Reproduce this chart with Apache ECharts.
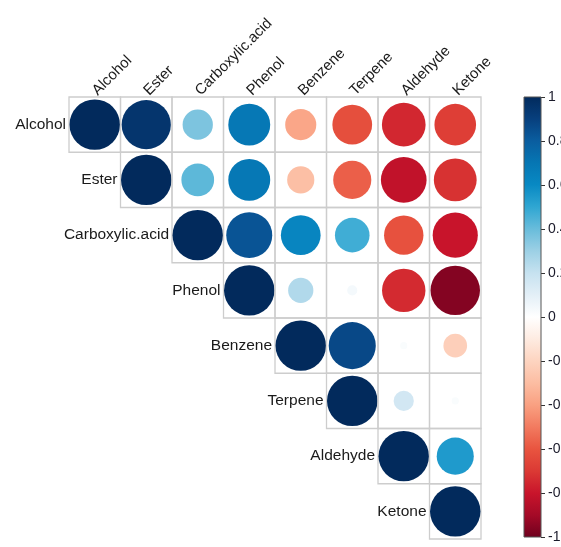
<!DOCTYPE html>
<html>
<head>
<meta charset="utf-8">
<script src="https://cdn.jsdelivr.net/npm/echarts@6/dist/echarts.min.js"></script>
<style>
  html, body { margin: 0; padding: 0; background: #fff; }
  #chart { width: 561px; height: 547px; }
</style>
</head>
<body>
<div id="chart"></div>
<script>
// Variables, in matrix order
const categories = ['Alcohol', 'Ester', 'Carboxylic.acid', 'Phenol', 'Benzene', 'Terpene', 'Aldehyde', 'Ketone'];

// Upper-triangle correlations, each row starting at its diagonal
const rowAlcohol   = [1, 0.95, 0.36, 0.69, -0.38, -0.62, -0.75, -0.68];
const rowEster     = [1, 0.42, 0.69, -0.29, -0.57, -0.82, -0.72];
const rowCarboxyl  = [1, 0.83, 0.62, 0.47, -0.61, -0.80];
const rowPhenol    = [1, 0.25, 0.04, -0.74, -0.96];
const rowBenzene   = [1, 0.87, 0.02, -0.22];
const rowTerpene   = [1, 0.16, 0.02];
const rowAldehyde  = [1, 0.54];
const rowKetone    = [1];

// Colour-bar tick labels, bottom to top
const barTicks = ['-1', '-0.8', '-0.6', '-0.4', '-0.2', '0', '0.2', '0.4', '0.6', '0.8', '1'];

// Diverging palette, evenly spaced from -1 to 1
const palette = [
  '#6E001E', '#A40A27', '#C8142B', '#DB3934', '#E8543F', '#F27A5F', '#F9A081',
  '#FCBDA2', '#FDD4C0', '#FEEBE1', '#FFFFFF', '#E3EFF7', '#C6E2F0', '#9CD0E5',
  '#68BCDB', '#2FA6D2', '#0889C3', '#0676B3', '#0A5D9F', '#073F7D', '#022A5C'
];

const rows = [rowAlcohol, rowEster, rowCarboxyl, rowPhenol, rowBenzene, rowTerpene, rowAldehyde, rowKetone];
const cells = [];
rows.forEach((vals, r) => {
  vals.forEach((v, k) => cells.push([r + k, r, v]));
});

const FONT = "'Liberation Sans', Arial, sans-serif";
const chart = echarts.init(document.getElementById('chart'), null, { renderer: 'canvas' });

const gradientStops = palette.map((c, i) => ({ offset: i / (palette.length - 1), color: c }));

chart.setOption({
  animation: false,
  backgroundColor: '#ffffff',
  grid: [
    { left: 69, top: 97, width: 412, height: 442, outerBoundsMode: 'none', containLabel: false },
    { left: 524, top: 97, width: 17, height: 440, outerBoundsMode: 'none', containLabel: false }
  ],
  xAxis: [
    {
      gridIndex: 0, type: 'category', data: categories, position: 'top',
      axisLine: { show: false }, axisTick: { show: false }, splitLine: { show: false },
      axisLabel: { rotate: -45, interval: 0, margin: 4, fontSize: 15, color: '#1a1a1a', fontFamily: FONT }
    },
    { gridIndex: 1, type: 'category', data: ['bar'], show: false }
  ],
  yAxis: [
    { gridIndex: 0, type: 'category', data: categories, inverse: true, show: false },
    {
      gridIndex: 1, type: 'value', min: -1, max: 1, interval: 0.2, position: 'right',
      axisLine: { show: false }, splitLine: { show: false },
      axisTick: { show: true, length: 4, lineStyle: { color: '#333', width: 1 } },
      axisLabel: {
        margin: 7, fontSize: 14, color: '#1a1a2a', fontFamily: FONT,
        formatter: v => barTicks[Math.round((v + 1) / 0.2)]
      }
    }
  ],
  visualMap: {
    type: 'continuous', show: false, min: -1, max: 1, dimension: 2, seriesIndex: 0,
    inRange: { color: palette }
  },
  series: [
    {
      // grid cells and circles
      type: 'custom', xAxisIndex: 0, yAxisIndex: 0, data: cells,
      renderItem: (params, api) => {
        const c = api.coord([api.value(0), api.value(1)]);
        const s = api.size([1, 1]);
        const v = api.value(2);
        const rad = Math.sqrt(Math.abs(v)) * 0.49 * Math.min(s[0], s[1]);
        return {
          type: 'group',
          children: [
            {
              type: 'rect',
              shape: { x: c[0] - s[0] / 2, y: c[1] - s[1] / 2, width: s[0], height: s[1] },
              style: { fill: null, stroke: '#cdcdcd', lineWidth: 1.3 }
            },
            {
              type: 'circle',
              shape: { cx: c[0], cy: c[1], r: rad },
              style: { fill: api.visual('color') }
            }
          ]
        };
      }
    },
    {
      // row names beside the diagonal
      type: 'custom', xAxisIndex: 0, yAxisIndex: 0,
      data: categories.map((name, i) => [i, i]),
      renderItem: (params, api) => {
        const i = api.value(0);
        const c = api.coord([i, i]);
        const s = api.size([1, 1]);
        return {
          type: 'text',
          style: {
            x: c[0] - s[0] / 2 - 3, y: c[1],
            text: categories[i], align: 'right', verticalAlign: 'middle',
            fontSize: 15.5, fontFamily: FONT, fill: '#1a1a1a'
          }
        };
      }
    },
    {
      // colour bar
      type: 'custom', xAxisIndex: 1, yAxisIndex: 1, data: [[0, -1, 1]],
      renderItem: (params, api) => {
        const lo = api.coord([0, api.value(1)]);
        const hi = api.coord([0, api.value(2)]);
        const cs = params.coordSys;
        return {
          type: 'rect',
          shape: { x: cs.x, y: hi[1], width: cs.width, height: lo[1] - hi[1] },
          style: {
            fill: new echarts.graphic.LinearGradient(0, 1, 0, 0, gradientStops),
            stroke: '#555', lineWidth: 1
          }
        };
      }
    }
  ]
});
</script>
</body>
</html>
